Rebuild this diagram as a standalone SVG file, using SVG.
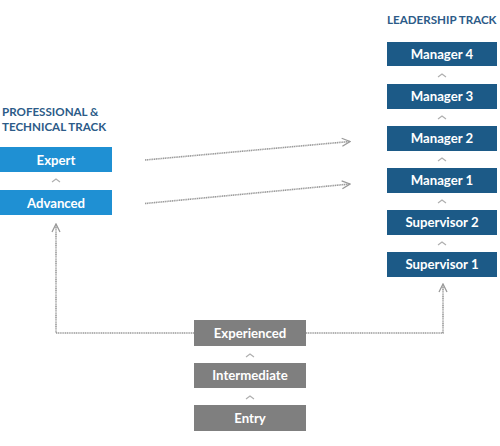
<svg xmlns="http://www.w3.org/2000/svg" width="500" height="446" viewBox="0 0 500 446">
<defs>
<style>
.title{font-family:Lato,"Open Sans","Liberation Sans",sans-serif;font-weight:bold;font-size:11.6px;fill:#2c5b88}
.lbl{font-family:Lato,"Open Sans","Liberation Sans",sans-serif;font-weight:bold;font-size:13.2px;fill:#ffffff;text-anchor:middle}
.blue{fill:#1f90d3}
.navy{fill:#1c5a87}
.grey{fill:#7f7f7f}
.chev{fill:none;stroke:#b0b0b0;stroke-width:1.2}
.conn{fill:none;stroke:#9a9a9a;stroke-width:1.6;stroke-dasharray:1.2 0.6}
</style>
<marker id="ah" viewBox="0 0 10 10" refX="9" refY="5" markerWidth="10" markerHeight="10" markerUnits="userSpaceOnUse" orient="auto">
<path d="M1,1 L9,5 L1,9" fill="none" stroke="#9a9a9a" stroke-width="1.3"/>
</marker>
</defs>
<rect width="500" height="446" fill="#ffffff"/>
<text class="title" x="2" y="116">PROFESSIONAL &amp;</text>
<text class="title" x="2" y="131">TECHNICAL TRACK</text>
<text class="title" x="387" y="24">LEADERSHIP TRACK</text>

<g id="connectors">
<path class="conn" d="M145,160 L350,141.5" marker-end="url(#ah)"/>
<path class="conn" d="M145,203.5 L350,184" marker-end="url(#ah)"/>
<path class="conn" d="M194,333 L56,333 L56,224" marker-end="url(#ah)"/>
<path class="conn" d="M306,333 L443,333 L443,284" marker-end="url(#ah)"/>
<path class="chev" d="M52,182 L56,179 L60,182"/>
<path class="chev" d="M246,357 L250,354 L254,357"/>
<path class="chev" d="M246,399 L250,396 L254,399"/>
<path class="chev" d="M438,77 L442,74 L446,77"/>
<path class="chev" d="M438,119 L442,116 L446,119"/>
<path class="chev" d="M438,161 L442,158 L446,161"/>
<path class="chev" d="M438,203 L442,200 L446,203"/>
<path class="chev" d="M438,245 L442,242 L446,245"/>
</g>

<g id="expert"><rect class="blue" x="0" y="147" width="112" height="25"/><text class="lbl" x="56" y="164.5">Expert</text></g>
<g id="advanced"><rect class="blue" x="0" y="190" width="112" height="25"/><text class="lbl" x="56" y="207.5">Advanced</text></g>

<g id="manager4"><rect class="navy" x="387" y="42" width="110" height="24"/><text class="lbl" x="442" y="58.5">Manager 4</text></g>
<g id="manager3"><rect class="navy" x="387" y="84" width="110" height="25"/><text class="lbl" x="442" y="101">Manager 3</text></g>
<g id="manager2"><rect class="navy" x="387" y="126" width="110" height="25"/><text class="lbl" x="442" y="143">Manager 2</text></g>
<g id="manager1"><rect class="navy" x="387" y="168" width="110" height="25"/><text class="lbl" x="442" y="185">Manager 1</text></g>
<g id="supervisor2"><rect class="navy" x="387" y="210" width="110" height="25"/><text class="lbl" x="442" y="227">Supervisor 2</text></g>
<g id="supervisor1"><rect class="navy" x="387" y="252" width="110" height="25"/><text class="lbl" x="442" y="269">Supervisor 1</text></g>

<g id="experienced"><rect class="grey" x="194" y="320" width="112" height="26"/><text class="lbl" x="250" y="337.5">Experienced</text></g>
<g id="intermediate"><rect class="grey" x="194" y="363" width="112" height="25"/><text class="lbl" x="250" y="380">Intermediate</text></g>
<g id="entry"><rect class="grey" x="194" y="405" width="112" height="26"/><text class="lbl" x="250" y="422.5">Entry</text></g>
</svg>
